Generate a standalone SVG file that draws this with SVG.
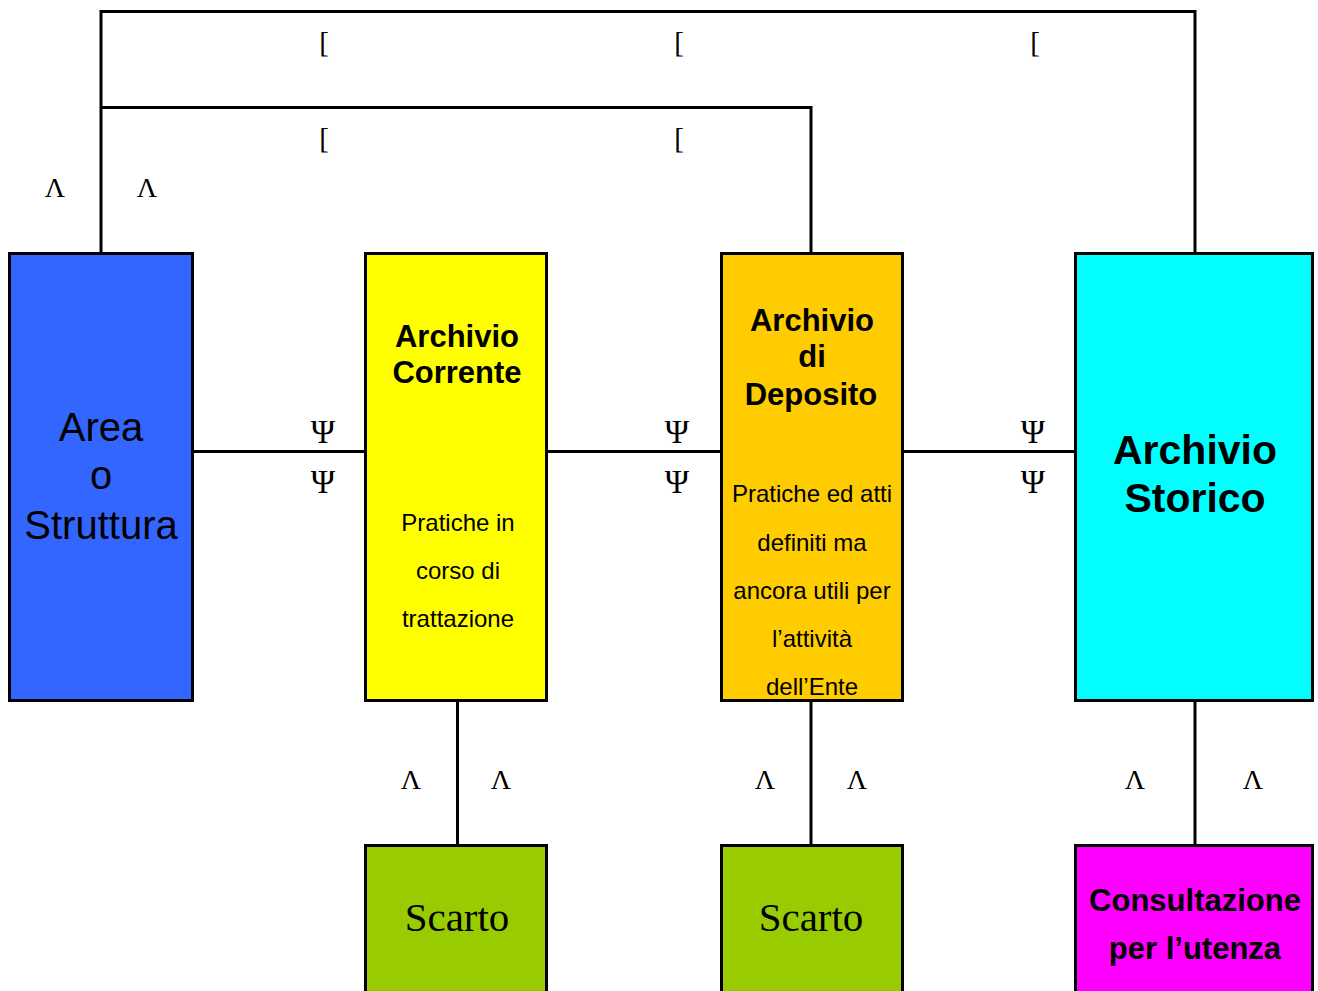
<svg xmlns="http://www.w3.org/2000/svg" width="1318" height="991" viewBox="0 0 1318 991">
<style>
.box{stroke:#000;stroke-width:3}
.ln{stroke:#000;stroke-width:3;fill:none}
.sym{font-family:"Liberation Serif","Times New Roman",serif;font-size:28px;fill:#000;text-anchor:middle}
.psi{font-size:33px}
.br{font-family:"Liberation Serif","Times New Roman",serif;font-size:29px;fill:#000;text-anchor:middle}
.t{font-family:"Liberation Sans",Arial,sans-serif;fill:#000;text-anchor:middle}
.b{font-weight:bold}
</style>
<rect width="1318" height="991" fill="#fff"/>
<g id="connectors">
<polyline class="ln" points="101,253 101,11.5 1195,11.5 1195,253"/>
<polyline class="ln" points="101,107.5 811,107.5 811,253"/>
<line class="ln" x1="193" y1="451.5" x2="365" y2="451.5"/>
<line class="ln" x1="547" y1="451.5" x2="721" y2="451.5"/>
<line class="ln" x1="903" y1="451.5" x2="1075" y2="451.5"/>
<line class="ln" x1="457.5" y1="701" x2="457.5" y2="845"/>
<line class="ln" x1="811" y1="701" x2="811" y2="845"/>
<line class="ln" x1="1195" y1="701" x2="1195" y2="845"/>
<text class="br" x="324" y="52">[</text>
<text class="br" x="679" y="52">[</text>
<text class="br" x="1035" y="52">[</text>
<text class="br" x="324" y="148">[</text>
<text class="br" x="679" y="148">[</text>
<text class="sym" x="55" y="197">Λ</text>
<text class="sym" x="147" y="197">Λ</text>
<text class="sym" x="411" y="789">Λ</text>
<text class="sym" x="501" y="789">Λ</text>
<text class="sym" x="765" y="789">Λ</text>
<text class="sym" x="857" y="789">Λ</text>
<text class="sym" x="1135" y="789">Λ</text>
<text class="sym" x="1253" y="789">Λ</text>
<text class="sym psi" x="323" y="443">Ψ</text>
<text class="sym psi" x="323" y="493">Ψ</text>
<text class="sym psi" x="677" y="443">Ψ</text>
<text class="sym psi" x="677" y="493">Ψ</text>
<text class="sym psi" x="1033" y="443">Ψ</text>
<text class="sym psi" x="1033" y="493">Ψ</text>
</g>
<g id="area">
<rect class="box" x="9.5" y="253.5" width="183" height="447" fill="#3366FF"/>
<text class="t" x="101" y="441" font-size="40">Area</text>
<text class="t" x="101" y="489" font-size="40">o</text>
<text class="t" x="101" y="539" font-size="40">Struttura</text>
</g>
<g id="corrente">
<rect class="box" x="365.5" y="253.5" width="181" height="447" fill="#FFFF00"/>
<text class="t b" x="457" y="347" font-size="31">Archivio</text>
<text class="t b" x="457" y="383" font-size="31">Corrente</text>
<text class="t" x="458" y="531" font-size="24">Pratiche in</text>
<text class="t" x="458" y="579" font-size="24">corso di</text>
<text class="t" x="458" y="627" font-size="24">trattazione</text>
</g>
<g id="deposito">
<rect class="box" x="721.5" y="253.5" width="181" height="447" fill="#FFCC00"/>
<text class="t b" x="812" y="331" font-size="31">Archivio</text>
<text class="t b" x="812" y="367" font-size="31">di</text>
<text class="t b" x="811" y="405" font-size="31">Deposito</text>
<text class="t" x="812" y="502" font-size="24">Pratiche ed atti</text>
<text class="t" x="812" y="551" font-size="24">definiti ma</text>
<text class="t" x="812" y="599" font-size="24">ancora utili per</text>
<text class="t" x="812" y="647" font-size="24">l’attività</text>
<text class="t" x="812" y="695" font-size="24">dell’Ente</text>
</g>
<g id="storico">
<rect class="box" x="1075.5" y="253.5" width="237" height="447" fill="#00FFFF"/>
<text class="t b" x="1195" y="464" font-size="41">Archivio</text>
<text class="t b" x="1195" y="512" font-size="41">Storico</text>
</g>
<g id="scarto1">
<rect class="box" x="365.5" y="845.5" width="181" height="160" fill="#99CC00"/>
<text x="457" y="931" font-family="Liberation Serif,'Times New Roman',serif" font-size="41" text-anchor="middle">Scarto</text>
</g>
<g id="scarto2">
<rect class="box" x="721.5" y="845.5" width="181" height="160" fill="#99CC00"/>
<text x="811" y="931" font-family="Liberation Serif,'Times New Roman',serif" font-size="41" text-anchor="middle">Scarto</text>
</g>
<g id="consultazione">
<rect class="box" x="1075.5" y="845.5" width="237" height="160" fill="#FF00FF"/>
<text class="t b" x="1195" y="911" font-size="31">Consultazione</text>
<text class="t b" x="1195" y="959" font-size="31">per l’utenza</text>
</g>
</svg>
